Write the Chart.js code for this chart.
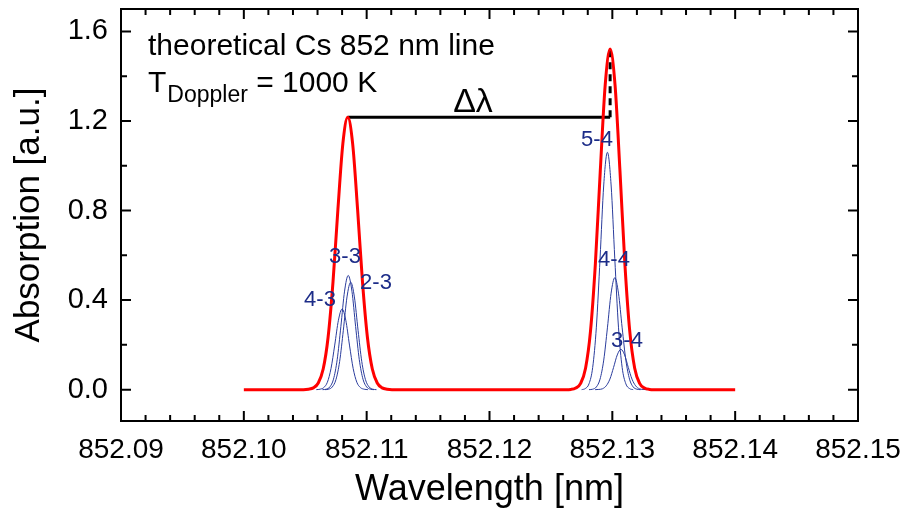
<!DOCTYPE html>
<html>
<head>
<meta charset="utf-8">
<script src="https://cdn.jsdelivr.net/npm/chart.js@4.4.1/dist/chart.umd.min.js"></script>
<style>
  html, body { margin: 0; padding: 0; background: #fff; }
  #wrap { width: 909px; height: 513px; }
</style>
</head>
<body>
<div id="wrap"><canvas id="chart" width="909" height="513"></canvas></div>
<script>
// Axis ticks
const xTicks = [852.09, 852.10, 852.11, 852.12, 852.13, 852.14, 852.15];
const yTicks = [0.0, 0.4, 0.8, 1.2, 1.6];

// Total (red) absorption profile
const totalWl = [852.100,
  852.10486, 852.10526, 852.10566, 852.10606, 852.10646, 852.10686, 852.10726, 852.10766, 852.10806,
  852.10846,
  852.10886, 852.10926, 852.10966, 852.11006, 852.11046, 852.11086, 852.11126, 852.11166, 852.11206,
  852.12622, 852.12662, 852.12702, 852.12742, 852.12782, 852.12822, 852.12862, 852.12902, 852.12942,
  852.12982,
  852.13022, 852.13062, 852.13102, 852.13142, 852.13182, 852.13222, 852.13262, 852.13302, 852.13342,
  852.140];
const totalAbs = [0,
  0, 0.002, 0.008, 0.030, 0.092, 0.234, 0.481, 0.806, 1.098,
  1.217,
  1.098, 0.806, 0.481, 0.234, 0.092, 0.030, 0.008, 0.002, 0,
  0, 0.001, 0.007, 0.028, 0.096, 0.260, 0.563, 0.978, 1.361,
  1.521,
  1.361, 0.978, 0.563, 0.260, 0.096, 0.028, 0.007, 0.001, 0,
  0];

// Hyperfine components (blue)
const wl43 = [852.1059, 852.1062, 852.1065, 852.1068, 852.1071, 852.1074, 852.1077, 852.1080, 852.1083, 852.1086, 852.1089, 852.1092, 852.1095, 852.1098, 852.1101];
const abs43 = [0, 0.002, 0.009, 0.033, 0.095, 0.199, 0.310, 0.360, 0.310, 0.199, 0.095, 0.033, 0.009, 0.002, 0];
const wl33 = [852.1064, 852.1067, 852.1070, 852.1073, 852.1076, 852.1079, 852.1082, 852.1085, 852.1088, 852.1091, 852.1094, 852.1097, 852.1100, 852.1103, 852.1106];
const abs33 = [0, 0.002, 0.012, 0.047, 0.134, 0.282, 0.440, 0.510, 0.440, 0.282, 0.134, 0.047, 0.012, 0.002, 0];
const wl23 = [852.1066, 852.1069, 852.1072, 852.1075, 852.1078, 852.1081, 852.1084, 852.1087, 852.1090, 852.1093, 852.1096, 852.1099, 852.1102, 852.1105, 852.1108];
const abs23 = [0, 0.002, 0.012, 0.045, 0.126, 0.265, 0.414, 0.480, 0.414, 0.265, 0.126, 0.045, 0.012, 0.002, 0];
const wl54 = [852.1275, 852.1278, 852.1281, 852.1284, 852.1287, 852.1290, 852.1293, 852.1296, 852.1299, 852.1302, 852.1305, 852.1308, 852.1311, 852.1314, 852.1317];
const abs54 = [0, 0.005, 0.026, 0.099, 0.279, 0.585, 0.914, 1.060, 0.914, 0.585, 0.279, 0.099, 0.026, 0.005, 0];
const wl44 = [852.1281, 852.1284, 852.1287, 852.1290, 852.1293, 852.1296, 852.1299, 852.1302, 852.1305, 852.1308, 852.1311, 852.1314, 852.1317, 852.1320, 852.1323];
const abs44 = [0, 0.002, 0.012, 0.047, 0.132, 0.276, 0.431, 0.500, 0.431, 0.276, 0.132, 0.047, 0.012, 0.002, 0];
const wl34 = [852.1286, 852.1289, 852.1292, 852.1295, 852.1298, 852.1301, 852.1304, 852.1307, 852.1310, 852.1313, 852.1316, 852.1319, 852.1322, 852.1325, 852.1328];
const abs34 = [0, 0.001, 0.004, 0.017, 0.047, 0.099, 0.155, 0.180, 0.155, 0.099, 0.047, 0.017, 0.004, 0.001, 0];

// Δλ marker: peak-to-peak bar and dashed riser
const deltaWl = [852.10846, 852.12982];
const deltaAbs = [1.217, 1.217];
const riserWl = [852.12982, 852.12982];
const riserAbs = [1.217, 1.521];

const FONT = "'Liberation Sans', Arial, Helvetica, sans-serif";
const BLUE = '#2a3c9c';
const LABEL_BLUE = '#1c2c88';

const pts = (xs, ys) => xs.map((x, i) => ({ x, y: ys[i] }));

const blue = (xs, ys) => ({
  data: pts(xs, ys),
  borderColor: BLUE,
  borderWidth: 1,
  pointRadius: 0,
  cubicInterpolationMode: 'monotone',
  fill: false,
});

// keep the plot box where the reference has it
const noPad = s => { s.paddingTop = 0; s.paddingBottom = 0; s.paddingLeft = 0; s.paddingRight = 0; };

// frame + inward ticks on all four sides, and the text labels
const framePlugin = {
  id: 'frame',
  afterDraw(chart) {
    const { ctx, chartArea: a, scales: { x, y } } = chart;
    ctx.save();
    ctx.strokeStyle = '#000';
    ctx.lineWidth = 2;
    ctx.strokeRect(a.left, a.top, a.right - a.left, a.bottom - a.top);

    const majorLen = 10, minorLen = 6;
    ctx.beginPath();
    for (let i = 0; i < xTicks.length; i++) {
      const px = x.getPixelForValue(xTicks[i]);
      ctx.moveTo(px, a.bottom); ctx.lineTo(px, a.bottom - majorLen);
      ctx.moveTo(px, a.top); ctx.lineTo(px, a.top + majorLen);
      if (i < xTicks.length - 1) {
        for (let k = 1; k < 5; k++) {
          const mx = x.getPixelForValue(xTicks[i] + (xTicks[i + 1] - xTicks[i]) * k / 5);
          ctx.moveTo(mx, a.bottom); ctx.lineTo(mx, a.bottom - minorLen);
          ctx.moveTo(mx, a.top); ctx.lineTo(mx, a.top + minorLen);
        }
      }
    }
    for (let i = 0; i < yTicks.length; i++) {
      const py = y.getPixelForValue(yTicks[i]);
      ctx.moveTo(a.left, py); ctx.lineTo(a.left + majorLen, py);
      ctx.moveTo(a.right, py); ctx.lineTo(a.right - majorLen, py);
      if (i < yTicks.length - 1) {
        const my = y.getPixelForValue((yTicks[i] + yTicks[i + 1]) / 2);
        ctx.moveTo(a.left, my); ctx.lineTo(a.left + minorLen, my);
        ctx.moveTo(a.right, my); ctx.lineTo(a.right - minorLen, my);
      }
    }
    ctx.stroke();

    // header text
    ctx.fillStyle = '#000';
    ctx.textBaseline = 'alphabetic';
    ctx.textAlign = 'left';
    ctx.font = '30px ' + FONT;
    ctx.fillText('theoretical Cs 852 nm line', 148, 55);
    ctx.fillText('T', 148, 92);
    let tw = ctx.measureText('T').width;
    ctx.font = '23px ' + FONT;
    ctx.fillText('Doppler', 149 + tw, 102);
    tw += ctx.measureText('Doppler').width + 1;
    ctx.font = '30px ' + FONT;
    ctx.fillText(' = 1000 K', 148 + tw, 92);

    ctx.font = '34px ' + FONT;
    ctx.textAlign = 'center';
    ctx.fillText('\u0394\u03bb', 473, 112);

    // component labels
    ctx.fillStyle = LABEL_BLUE;
    ctx.font = '22px ' + FONT;
    ctx.textBaseline = 'middle';
    [['4-3', 320, 300], ['3-3', 345, 257], ['2-3', 376, 283],
     ['5-4', 597, 140], ['4-4', 614, 260], ['3-4', 627, 341]].forEach(([t, lx, ly]) => ctx.fillText(t, lx, ly));
    ctx.restore();
  }
};

new Chart(document.getElementById('chart'), {
  type: 'line',
  data: {
    datasets: [
      {
        data: pts(totalWl, totalAbs),
        borderColor: '#ff0000',
        borderWidth: 3,
        pointRadius: 0,
        cubicInterpolationMode: 'monotone',
        fill: false,
      },
      {
        data: pts(deltaWl, deltaAbs),
        borderColor: '#000',
        borderWidth: 3,
        pointRadius: 0,
        tension: 0,
      },
      {
        data: pts(riserWl, riserAbs),
        borderColor: '#000',
        borderWidth: 3,
        borderDash: [7, 5],
        pointRadius: 0,
        tension: 0,
      },
      blue(wl43, abs43),
      blue(wl33, abs33),
      blue(wl23, abs23),
      blue(wl54, abs54),
      blue(wl44, abs44),
      blue(wl34, abs34),
    ]
  },
  options: {
    responsive: false,
    animation: false,
    devicePixelRatio: 1,
    layout: { padding: { left: 0, right: 51, top: 9, bottom: 0 } },
    plugins: { legend: { display: false }, tooltip: { enabled: false } },
    scales: {
      x: {
        type: 'linear',
        min: 852.09,
        max: 852.15,
        afterBuildTicks: s => { s.ticks = xTicks.map(v => ({ value: v })); },
        afterFit: s => { s.height = 92; noPad(s); },
        grid: { display: false, drawTicks: false },
        border: { display: false },
        ticks: {
          padding: 12,
          color: '#000',
          font: { family: FONT, size: 28 },
          maxRotation: 0,
          callback: v => v.toFixed(2),
        },
        title: {
          display: true,
          text: 'Wavelength [nm]',
          color: '#000',
          font: { family: FONT, size: 36 },
          padding: { top: 0, bottom: 1 },
        }
      },
      y: {
        type: 'linear',
        min: -0.14,
        max: 1.7,
        afterBuildTicks: s => { s.ticks = yTicks.map(v => ({ value: v })); },
        afterFit: s => { s.width = 121; noPad(s); },
        grid: { display: false, drawTicks: false },
        border: { display: false },
        ticks: {
          padding: 13,
          color: '#000',
          font: { family: FONT, size: 29 },
          callback: v => v.toFixed(1),
        },
        title: {
          display: true,
          text: 'Absorption [a.u.]',
          color: '#000',
          font: { family: FONT, size: 35 },
          padding: { top: 8, bottom: 0 },
        }
      }
    }
  },
  plugins: [framePlugin]
});
</script>
</body>
</html>
